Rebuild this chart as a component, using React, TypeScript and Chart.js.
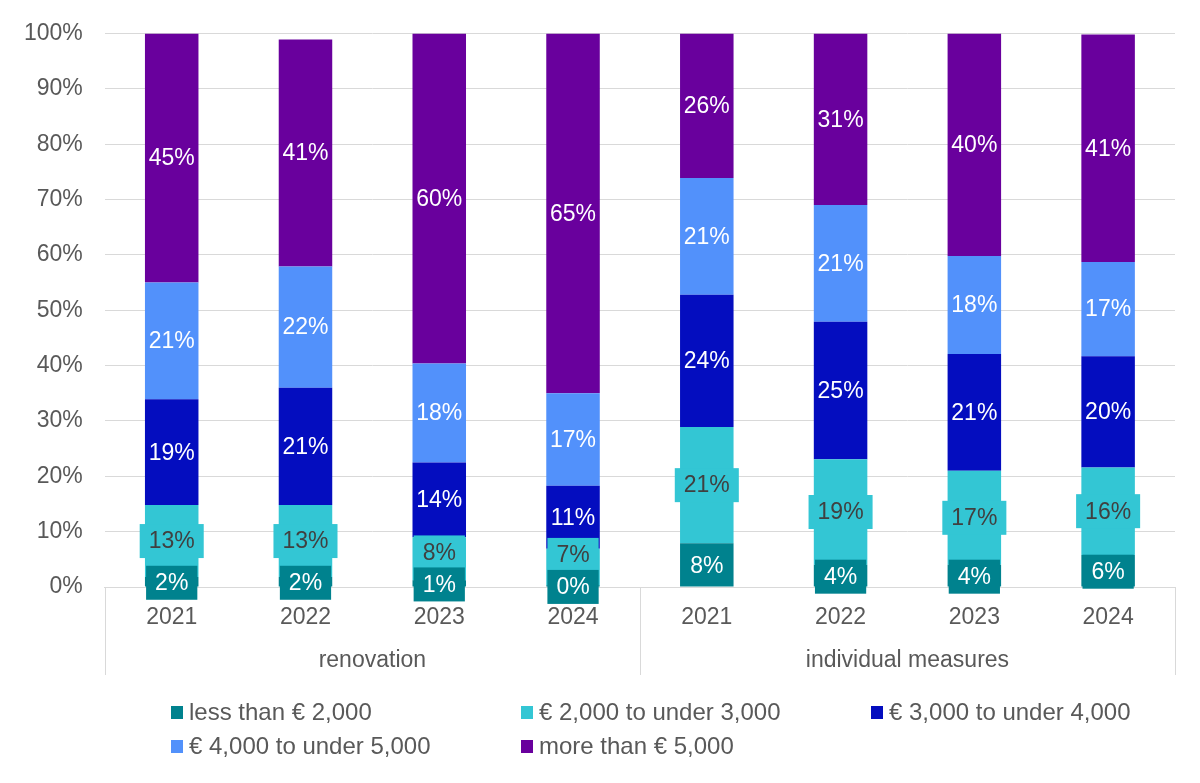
import { useEffect, useRef } from 'react';
import { Chart, registerables } from 'chart.js';

Chart.register(...registerables);

const FONT = '"Liberation Sans", Arial, sans-serif';

const years = ['2021', '2022', '2023', '2024', '2021', '2022', '2023', '2024'];
const groups = ['renovation', 'individual measures'];
const seriesNames = [
    'less than € 2,000',
    '€ 2,000 to under 3,000',
    '€ 3,000 to under 4,000',
    '€ 4,000 to under 5,000',
    'more than € 5,000',
];
const seriesColors = ['#00828E', '#33C6D4', '#040DBF', '#5291FB', '#69009D'];

// shares in percent
const lessThan2000 = [1.8, 1.8, 1.2, 0.3, 7.9, 4.0, 4.0, 5.8];
const from2000to3000 = [13.0, 13.0, 7.8, 6.6, 21.0, 19.1, 17.0, 15.8];
const from3000to4000 = [19.1, 21.2, 13.5, 11.4, 23.9, 24.8, 21.1, 20.1];
const from4000to5000 = [21.1, 21.9, 17.9, 16.7, 21.1, 21.1, 17.7, 17.0];
const moreThan5000 = [45.0, 41.0, 59.6, 65.0, 26.1, 31.0, 40.2, 41.1];

const seriesValues = [lessThan2000, from2000to3000, from3000to4000, from4000to5000, moreThan5000];

const yTicks = [0, 10, 20, 30, 40, 50, 60, 70, 80, 90, 100];

const GREY_TEXT = '#595959';
const GRID = '#d9d9d9';
const TEXT_SIZE = 23;

// labels in the segments; the two lowest series get a filled box like Excel labels
const segmentLabels = {
    id: 'segmentLabels',
    afterDatasetsDraw(chart: any) {
        const { ctx } = chart;
        const boxH = 34;
        const padX = 9;
        ctx.save();
        ctx.font = `${TEXT_SIZE}px ${FONT}`;
        ctx.textAlign = 'center';
        ctx.textBaseline = 'middle';
        const n = chart.data.labels.length;
        for (let i = 0; i < n; i++) {
            const centres = chart.data.datasets.map((_: any, d: number) => {
                const el = chart.getDatasetMeta(d).data[i];
                const { x, y, base } = el.getProps(['x', 'y', 'base'], true);
                return { x, y: (y + base) / 2 };
            });
            const text = (d: number) => Math.round(chart.data.datasets[d].data[i]) + '%';

            for (let d = 2; d < centres.length; d++) {
                ctx.fillStyle = '#ffffff';
                ctx.fillText(text(d), centres[d].x, centres[d].y + 1);
            }

            const teal = { x: centres[0].x, y: centres[0].y + 1 };
            const cyan = { x: centres[1].x, y: Math.min(centres[1].y, teal.y - boxH + 2) };
            const boxed = [
                { d: 1, c: cyan, fg: '#404040' },
                { d: 0, c: teal, fg: '#ffffff' },
            ];
            boxed.forEach(({ d, c, fg }) => {
                const t = text(d);
                const w = ctx.measureText(t).width + padX * 2;
                ctx.fillStyle = seriesColors[d];
                ctx.fillRect(c.x - w / 2, c.y - boxH / 2, w, boxH);
                ctx.fillStyle = fg;
                ctx.fillText(t, c.x, c.y + 1);
            });
        }
        ctx.restore();
    },
};

// vertical separators of the two-level category axis
const groupSeparators = {
    id: 'groupSeparators',
    afterDraw(chart: any) {
        const { ctx, chartArea } = chart;
        const x2 = chart.scales.x2;
        const mid = (x2.getPixelForTick(0) + x2.getPixelForTick(1)) / 2;
        ctx.save();
        ctx.strokeStyle = GRID;
        ctx.lineWidth = 1;
        [x2.left, mid, x2.right].forEach((px) => {
            const xx = Math.round(px) + 0.5;
            ctx.beginPath();
            ctx.moveTo(xx, chartArea.bottom);
            ctx.lineTo(xx, x2.bottom);
            ctx.stroke();
        });
        ctx.restore();
    },
};

// legend laid out in columns, as in the original
const columnLegend = {
    id: 'columnLegend',
    afterDraw(chart: any) {
        const { ctx } = chart;
        const colStart = 171;
        const colWidth = 350;
        const rowStart = 712;
        const rowHeight = 34;
        const perRow = 3;
        ctx.save();
        ctx.font = `24px ${FONT}`;
        ctx.textAlign = 'left';
        ctx.textBaseline = 'middle';
        chart.data.datasets.forEach((ds: any, k: number) => {
            const col = k % perRow;
            const row = Math.floor(k / perRow);
            const x = colStart + col * colWidth;
            const y = rowStart + row * rowHeight;
            ctx.fillStyle = ds.backgroundColor;
            ctx.fillRect(x, y - 6, 12, 13);
            ctx.fillStyle = GREY_TEXT;
            ctx.fillText(ds.label, x + 18, y + 1);
        });
        ctx.restore();
    },
};

export default function App() {
    const canvasRef = useRef<HTMLCanvasElement>(null);

    useEffect(() => {
        document.body.style.margin = '0';
        if (!canvasRef.current) return;

        const chart = new Chart(canvasRef.current, {
            type: 'bar',
            data: {
                labels: years,
                datasets: seriesNames.map((name, k) => ({
                    label: name,
                    data: seriesValues[k],
                    backgroundColor: seriesColors[k],
                    borderWidth: 0,
                    barPercentage: 0.4,
                    categoryPercentage: 1,
                })),
            },
            options: {
                responsive: true,
                maintainAspectRatio: false,
                animation: false,
                layout: { padding: { top: 22, left: 2, right: 25, bottom: 108 } },
                font: { family: FONT },
                plugins: {
                    legend: { display: false },
                    tooltip: { enabled: false },
                },
                scales: {
                    x: {
                        stacked: true,
                        weight: 0,
                        grid: { display: false },
                        border: { display: true, color: GRID, width: 1 },
                        ticks: { color: GREY_TEXT, font: { size: TEXT_SIZE, family: FONT }, padding: 9, maxRotation: 0 },
                        afterFit: (scale: any) => {
                            scale.height = 45;
                        },
                    },
                    x2: {
                        type: 'category',
                        labels: groups,
                        position: 'bottom',
                        weight: 1,
                        offset: true,
                        grid: { display: false },
                        border: { display: false },
                        ticks: { color: GREY_TEXT, font: { size: TEXT_SIZE, family: FONT }, padding: 7, maxRotation: 0 },
                        afterFit: (scale: any) => {
                            scale.height = 43;
                        },
                    },
                    y: {
                        stacked: true,
                        min: 0,
                        max: 100,
                        afterBuildTicks: (scale: any) => {
                            scale.ticks = yTicks.map((v) => ({ value: v }));
                        },
                        grid: { color: GRID, drawTicks: false },
                        border: { display: false },
                        ticks: {
                            color: GREY_TEXT,
                            font: { size: TEXT_SIZE, family: FONT, lineHeight: 1 },
                            padding: 22,
                            callback: (v: any) => v + '%',
                        },
                    },
                },
            },
            plugins: [segmentLabels, groupSeparators, columnLegend],
        });

        return () => chart.destroy();
    }, []);

    return (
        <div style={{ position: 'relative', width: 1200, height: 783 }}>
            <canvas ref={canvasRef} />
        </div>
    );
}
